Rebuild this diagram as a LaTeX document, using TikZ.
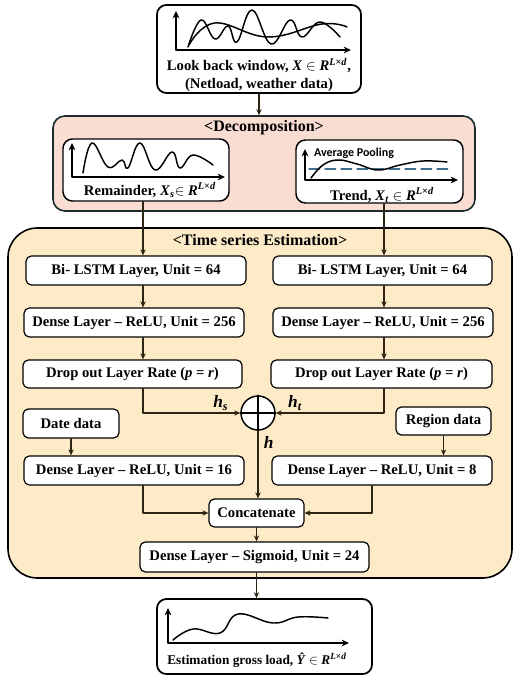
\documentclass[tikz,border=0pt]{standalone}
\usepackage{fontspec}
\setmainfont{Liberation Serif}
\newfontfamily\calibfont{Carlito}
\usetikzlibrary{arrows.meta}

\definecolor{decfill}{HTML}{F9DDD3}
\definecolor{decline}{HTML}{1C2A2C}
\definecolor{estfill}{HTML}{FDEBC8}
\definecolor{arrcol}{HTML}{2E2414}
\definecolor{pooldash}{HTML}{3F7090}
\newcommand{\dimRLd}{\textit{R}\textsuperscript{\textit{L}×\textit{d}}}

\begin{document}
\begin{tikzpicture}[x=0.75pt,y=-0.75pt,line cap=round,line join=round,
    lbl/.style={font=\fontsize{11}{13.5}\selectfont\bfseries,inner sep=0pt},
    ttl/.style={font=\fontsize{12}{14}\selectfont\bfseries,inner sep=0pt},
    box/.style={draw,fill=white,line width=0.9pt,rounded corners=4pt,
      minimum height=21.75pt,inner sep=0pt,font=\fontsize{11}{13.5}\selectfont\bfseries},
    panel/.style={draw,fill=white,line width=1.3pt,rounded corners=7pt,inner sep=0pt},
    arr/.style={draw=arrcol,line width=0.8pt,-{Stealth[length=4.5pt,width=4pt]}},
    axis/.style={line width=1.3pt,{Stealth[length=5.5pt,width=5pt]}-{Stealth[length=5.5pt,width=5pt]}},
    curve/.style={line width=1.1pt}]
  \useasboundingbox (0,0) rectangle (519,681);

  \coordinate (colS) at (143,0);
  \coordinate (colT) at (384,0);
  \coordinate (joinT) at (372,0);

  \node[panel,minimum width=153pt,minimum height=66pt] (look) at (259,49) {};
  \draw[axis] (176,11) -- (176,50) -- (351,50);
  \draw[curve] plot[smooth,tension=0.7] coordinates {(188,47) (201,20) (215,39) (228,26) (237,42)
    (252,10) (271,44) (290,20) (302,37) (320,22) (340,37)};
  \draw[curve] plot[smooth,tension=0.7] coordinates {(189,45) (215,23) (268,37) (322,24) (347,27)};
  \node[lbl,align=center] (lookTxt) at (259,75) {Look back window, \textit{X} $\in$ \dimRLd,\\(Netload, weather data)};

  \node[draw=decline,fill=decfill,line width=1.2pt,rounded corners=9pt,
    minimum width=316.5pt,minimum height=71.25pt] (decomp) at (264,163.5) {};
  \node[ttl] (decompTtl) at (264,128) {<Decomposition>};

  \node[panel,line width=1.1pt,minimum width=124.5pt,minimum height=46.5pt] (remainder) at (146,170) {};
  \draw[axis] (72,143) -- (72,177) -- (225,177);
  \draw[curve] plot[smooth,tension=0.7] coordinates {(83,173) (92,143) (108,167) (122,160) (128,168)
    (140,143) (155,170) (172,152) (180,168) (193,155) (213,165)};
  \node[lbl] (remainderTxt) at (150,190) {Remainder, \textit{X}\textsubscript{\textit{s}}$\in$ \dimRLd};

  \node[panel,line width=1.1pt,minimum width=125.25pt,minimum height=47.25pt] (trend) at (379.5,171.5) {};
  \draw[axis] (305,149) -- (305,180) -- (458,180);
  \node[font=\calibfont\fontsize{9}{11}\selectfont\bfseries,inner sep=0pt] (poolTxt) at (354,153) {Average Pooling};
  \draw[draw=pooldash,line width=1.1pt,dash pattern=on 8pt off 4pt] (309,169) -- (448,169);
  \draw[curve] plot[smooth,tension=0.7] coordinates {(311,178) (323,165) (338,160) (357,164) (378,170)
    (400,165) (423,161) (447,162)};
  \node[lbl] (trendTxt) at (382,195) {Trend, \textit{X}\textsubscript{\textit{t}} $\in$ \dimRLd};

  \node[draw,fill=estfill,line width=1.2pt,rounded corners=22pt,
    minimum width=378pt,minimum height=262.5pt] (series) at (260,403) {};
  \node[ttl] (seriesTtl) at (260,240) {<Time series Estimation>};

  \node[box,minimum width=165pt] (lstmS) at (136,270.5) {Bi- LSTM Layer, Unit = 64};
  \node[box,minimum width=164.25pt] (lstmT) at (382.5,270.5) {Bi- LSTM Layer, Unit = 64};
  \node[box,minimum width=165pt] (denseS) at (134,322.5) {Dense Layer – ReLU, Unit = 256};
  \node[box,minimum width=165pt] (denseT) at (383,322.5) {Dense Layer – ReLU, Unit = 256};
  \node[box,minimum width=164.25pt,minimum height=21pt] (dropS) at (132.5,374) {Drop out Layer Rate (\textit{p} = \textit{r})};
  \node[box,minimum width=165.75pt,minimum height=21pt] (dropT) at (381.5,374) {Drop out Layer Rate (\textit{p} = \textit{r})};
  \node[draw,circle,fill=white,line width=1.1pt,minimum size=25.5pt,inner sep=0pt] (oplus) at (258,413) {};
  \draw[line width=1.1pt] (oplus.north) -- (oplus.south) (oplus.west) -- (oplus.east);
  \node[box,minimum width=72pt] (date) at (71,423.5) {Date data};
  \node[box,minimum width=71.25pt,minimum height=21pt] (region) at (443.5,421) {Region data};
  \node[box,minimum width=165pt] (denseDate) at (134,470.5) {Dense Layer – ReLU, Unit = 16};
  \node[box,minimum width=165pt] (denseRegion) at (382,470.5) {Dense Layer – ReLU, Unit = 8};
  \node[box,minimum width=71.25pt,minimum height=21pt] (concat) at (256.5,513) {Concatenate};
  \node[box,minimum width=171.75pt,minimum height=22.5pt] (sigmoid) at (254.5,557) {Dense Layer – Sigmoid, Unit = 24};

  \node[panel,minimum width=161.25pt,minimum height=56.25pt] (est) at (264.5,636.5) {};
  \draw[axis] (168,608) -- (168,643) -- (349,643);
  \draw[curve] plot[smooth,tension=0.7] coordinates {(173,640) (193,629) (220,633) (238,614) (273,623)
    (298,617) (328,618)};
  \node[lbl,font=\fontsize{10}{12}\selectfont\bfseries] (estTxt) at (257,660) {Estimation gross load, \textit{\^{Y}} $\in$ \dimRLd};

  \draw[arr] (look.south) -- (look.south |- decomp.north);
  \draw[arr] (remainder.south -| colS) -- (lstmS.north -| colS);
  \draw[arr] (trend.south -| colT) -- (lstmT.north -| colT);
  \draw[arr] (lstmS.south -| colS) -- (denseS.north -| colS);
  \draw[arr] (lstmT.south -| colT) -- (denseT.north -| colT);
  \draw[arr] (denseS.south -| colS) -- (dropS.north -| colS);
  \draw[arr] (denseT.south -| colT) -- (dropT.north -| colT);
  \draw[arr] (dropS.south -| colS) |- (oplus.west)
    node[pos=0.9,above,inner sep=1.5pt,font=\fontsize{13}{15}\selectfont\bfseries] {\textit{h}\textsubscript{\textit{s}}};
  \draw[arr] (dropT.south -| colT) |- (oplus.east)
    node[pos=0.91,above,inner sep=1.5pt,font=\fontsize{13}{15}\selectfont\bfseries] {\textit{h}\textsubscript{\textit{t}}};
  \draw[arr] (oplus.south) -- (oplus.south |- concat.north)
    node[pos=0.17,right,inner sep=4pt,font=\fontsize{13}{15}\selectfont\bfseries] {\textit{h}};
  \draw[arr] (date.south) -- (date.south |- denseDate.north);
  \draw[arr] (region.south) -- (region.south |- denseRegion.north);
  \draw[arr] (denseDate.south -| colS) |- (concat.west);
  \draw[arr] (denseRegion.south -| joinT) |- (concat.east);
  \draw[arr] (concat.south) -- (concat.south |- sigmoid.north);
  \draw[arr] (sigmoid.south -| concat.south) -- (est.north -| concat.south);
\end{tikzpicture}
\end{document}
